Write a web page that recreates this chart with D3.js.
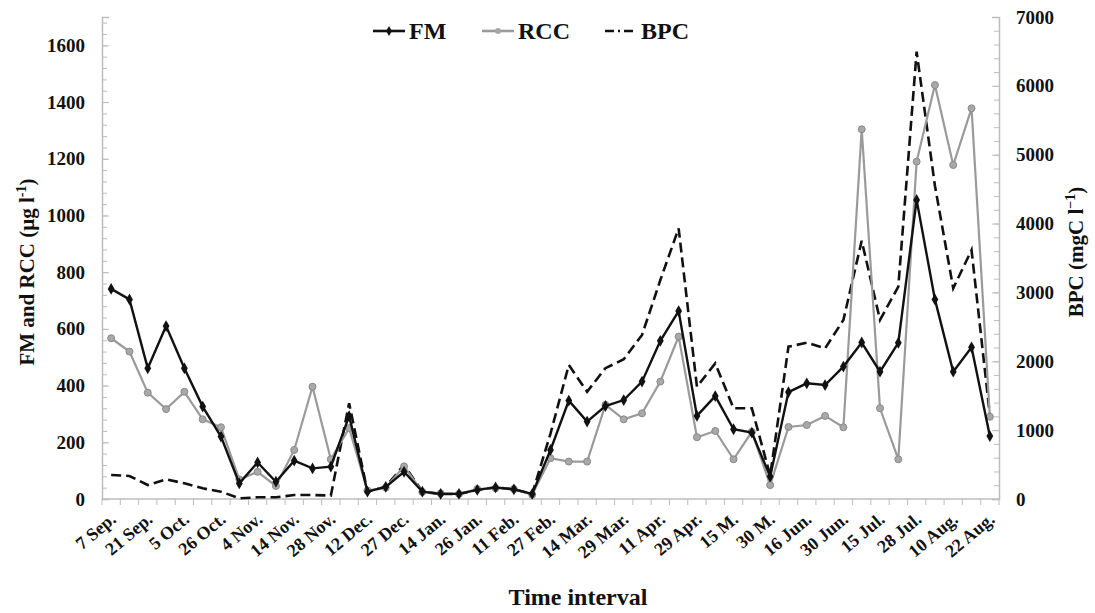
<!DOCTYPE html>
<html>
<head>
<meta charset="utf-8">
<script src="https://cdn.jsdelivr.net/npm/d3@7"></script>
<style>
  body { margin: 0; background: #fff; }
  text { font-family: "Liberation Serif", "Times New Roman", serif; font-weight: bold; }
</style>
</head>
<body>
<svg id="chart" width="1095" height="613"></svg>
<script>
// category labels (only every other category carries a label in the original)
var dates = ["7 Sep.","","21 Sep.","","5 Oct.","","26 Oct.","","4 Nov.","","14 Nov.","","28 Nov.","",
  "12 Dec.","","27 Dec.","","14 Jan.","","26 Jan.","","11 Feb.","","27 Feb.","","14 Mar.","",
  "29 Mar.","","11 Apr.","","29 Apr.","","15 M.","","30 M.","","16 Jun.","","30 Jun.","",
  "15 Jul.","","28 Jul.","","10 Aug.","","22 Aug."];

// FM and RCC in ug/l (left axis)
var fm = [741,704,461,610,461,326,220,55,129,61,135,108,114,292,26,43,96,26,18,18,
  32,41,34,18,173,347,273,328,349,414,558,663,293,363,246,234,79,377,408,402,
  467,552,449,551,1055,704,449,535,222];
var rcc = [567,520,375,317,378,281,253,69,96,46,173,396,140,250,30,40,115,25,20,18,
  35,38,35,15,144,132,132,332,281,302,414,573,218,240,140,237,49,254,261,293,
  253,1304,320,140,1190,1460,1178,1378,290];
// BPC in mgC/l (right axis)
var bpc = [349,334,203,286,228,155,106,10,25,25,58,58,50,1390,106,179,494,106,73,73,
  131,170,141,73,950,1946,1558,1900,2029,2382,3180,3931,1631,1970,1317,1317,340,2212,2270,2188,
  2600,3750,2600,3083,6496,4550,3060,3616,1220];

var leftTicks = d3.range(0, 1601, 200);
var rightTicks = d3.range(0, 7001, 1000);

var svg = d3.select("#chart");
var m = {left: 102, right: 96, top: 17, bottom: 114};
var W = 1095 - m.left - m.right, H = 613 - m.top - m.bottom;
var g = svg.append("g").attr("transform", "translate(" + m.left + "," + m.top + ")");

var idx = d3.range(dates.length);
var x = d3.scaleBand().domain(idx).range([0, W]).padding(0);
var cx = function(i){ return x(i) + x.bandwidth() / 2; };
var yL = d3.scaleLinear().domain([0, 1700]).range([H, 0]);
var yR = d3.scaleLinear().domain([0, 7000]).range([H, 0]);

var axisCol = "#bdbdbd";
var fmt = d3.format("d");

// minor ticks
g.append("g").call(d3.axisLeft(yL).tickValues(d3.range(0, 1701, 40)).tickSize(-5).tickFormat(""))
  .call(function(a){ a.select(".domain").remove(); a.selectAll("line").attr("stroke", axisCol); });
g.append("g").attr("transform", "translate(" + W + ",0)")
  .call(d3.axisRight(yR).tickValues(d3.range(0, 7001, 200)).tickSize(-5).tickFormat(""))
  .call(function(a){ a.select(".domain").remove(); a.selectAll("line").attr("stroke", axisCol); });

function styleAxis(a){
  a.select(".domain").attr("stroke", axisCol).attr("stroke-width", 1.5);
  a.selectAll("line").attr("stroke", axisCol);
  a.selectAll("text").attr("font-size", 19).attr("fill", "#111")
    .attr("font-family", "Liberation Serif").attr("font-weight", "bold");
}
// left axis
g.append("g").call(d3.axisLeft(yL).tickValues(leftTicks).tickFormat(fmt).tickSize(-7).tickPadding(17))
  .call(styleAxis);
// right axis
g.append("g").attr("transform", "translate(" + W + ",0)")
  .call(d3.axisRight(yR).tickValues(rightTicks).tickFormat(fmt).tickSize(-7).tickPadding(17))
  .call(styleAxis);

// bottom axis: line + ticks between categories
g.append("line").attr("x1", 0).attr("x2", W).attr("y1", H).attr("y2", H)
  .attr("stroke", axisCol).attr("stroke-width", 1.5);
g.selectAll(".ctick").data(d3.range(dates.length + 1)).enter().append("line")
  .attr("x1", function(i){ return i * x.step(); }).attr("x2", function(i){ return i * x.step(); })
  .attr("y1", H).attr("y2", H + 6).attr("stroke", axisCol);
g.selectAll(".xlab").data(idx.filter(function(i){ return dates[i] !== ""; })).enter().append("text")
  .attr("transform", function(i){ return "translate(" + (cx(i) + 6) + "," + (H + 22) + ") rotate(-40)"; })
  .attr("text-anchor", "end").attr("font-size", 18).attr("fill", "#111")
  .text(function(i){ return dates[i]; });

// lines
var lineL = function(arr){ return d3.line().x(function(d, i){ return cx(i); }).y(function(d){ return yL(d); })(arr); };
var lineR = d3.line().x(function(d, i){ return cx(i); }).y(function(d){ return yR(d); });

g.append("path").attr("d", lineR(bpc)).attr("fill", "none").attr("stroke", "#111")
  .attr("stroke-width", 2.6).attr("stroke-dasharray", "10,5");
g.append("path").attr("d", lineL(rcc)).attr("fill", "none").attr("stroke", "#9a9a9a").attr("stroke-width", 2.2);
g.selectAll(".rccpt").data(rcc).enter().append("circle")
  .attr("cx", function(d, i){ return cx(i); }).attr("cy", function(d){ return yL(d); })
  .attr("r", 3.5).attr("fill", "#a8a8a8").attr("stroke", "#8a8a8a");
g.append("path").attr("d", lineL(fm)).attr("fill", "none").attr("stroke", "#111").attr("stroke-width", 2.4);
g.selectAll(".fmpt").data(fm).enter().append("path")
  .attr("d", d3.symbol().type(d3.symbolDiamond).size(40))
  .attr("transform", function(d, i){ return "translate(" + cx(i) + "," + yL(d) + ")"; })
  .attr("fill", "#111");

// legend
var leg = svg.append("g");
var items = [
  {name: "FM", x: 373, col: "#111", dash: null, mark: "diamond"},
  {name: "RCC", x: 482, col: "#9a9a9a", dash: null, mark: "circle"},
  {name: "BPC", x: 605, col: "#111", dash: "9,4,2,4", mark: null}
];
items.forEach(function(it){
  leg.append("line").attr("x1", it.x).attr("x2", it.x + 32).attr("y1", 31).attr("y2", 31)
    .attr("stroke", it.col).attr("stroke-width", 2.6).attr("stroke-dasharray", it.dash);
  if (it.mark === "diamond") leg.append("path").attr("d", d3.symbol().type(d3.symbolDiamond).size(30))
    .attr("transform", "translate(" + (it.x + 16) + ",31)").attr("fill", "#111");
  if (it.mark === "circle") leg.append("circle").attr("cx", it.x + 16).attr("cy", 31).attr("r", 3)
    .attr("fill", "#a8a8a8");
  leg.append("text").attr("x", it.x + 36).attr("y", 39).attr("font-size", 24).attr("fill", "#111").text(it.name);
});

// axis titles
var tl = svg.append("text").attr("transform", "translate(34,272) rotate(-90)")
  .attr("text-anchor", "middle").attr("font-size", 21).attr("fill", "#111");
tl.append("tspan").text("FM and RCC (\u00b5g l");
tl.append("tspan").attr("font-size", 14).attr("dy", -8).text("-1");
tl.append("tspan").attr("dy", 8).text(")");

var tr = svg.append("text").attr("transform", "translate(1083,252) rotate(-90)")
  .attr("text-anchor", "middle").attr("font-size", 21).attr("fill", "#111");
tr.append("tspan").text("BPC (mgC l");
tr.append("tspan").attr("font-size", 14).attr("dy", -8).text("\u22121");
tr.append("tspan").attr("dy", 8).text(")");

svg.append("text").attr("x", 578).attr("y", 605).attr("text-anchor", "middle")
  .attr("font-size", 24).attr("fill", "#111").text("Time interval");
</script>
</body>
</html>
